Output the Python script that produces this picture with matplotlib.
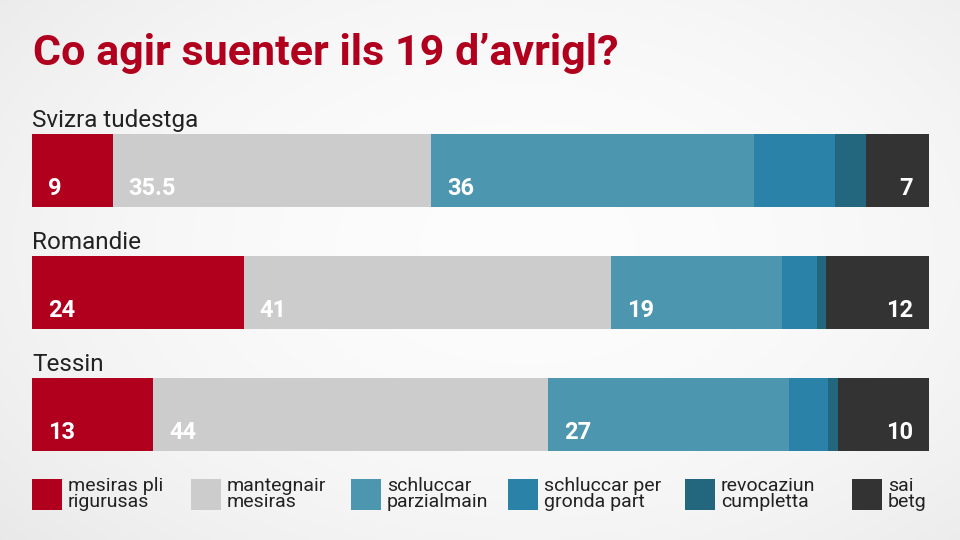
import numpy as np
import matplotlib
matplotlib.use("Agg")
import matplotlib.pyplot as plt
import matplotlib.transforms as mtransforms
from matplotlib.patches import Rectangle

# ---- data ----
title = "Co agir suenter ils 19 d\u2019avrigl?"
regions = ["Svizra tudestga", "Romandie", "Tessin"]
series = ["mesiras pli\nrigurusas", "mantegnair\nmesiras", "schluccar\nparzialmain",
          "schluccar per\ngronda part", "revocaziun\ncumpletta", "sai\nbetg"]
colors = ["#B0001E", "#CCCCCC", "#4C96B0", "#2A82A8", "#23677F", "#333333"]
values = [
    [9, 35.5, 36, 9, 3.5, 7],
    [23.6, 41, 19, 3.9, 1.0, 11.5],
    [13.5, 44, 26.9, 4.3, 1.2, 10.1],
]
value_labels = [
    ["9", "35.5", "36", None, None, "7"],
    ["24", "41", "19", None, None, "12"],
    ["13", "44", "27", None, None, "10"],
]

plt.rcParams['font.family'] = ['Roboto', 'DejaVu Sans']

W, H = 960, 540
fig = plt.figure(figsize=(9.6, 5.4), dpi=100)

# background gradient
bg = fig.add_axes([0, 0, 1, 1], zorder=-10)
yy, xx = np.mgrid[0:1:200j, 0:1:360j]
r = np.sqrt(((xx - 0.55) / 0.75) ** 2 + ((yy - 0.45) / 0.85) ** 2)
g = 0.99 - 0.08 * np.clip(r, 0, 1.2) ** 2
bg.imshow(np.dstack([g, g, g]), aspect='auto', extent=[0, 1, 0, 1])
bg.set_axis_off()

fig.text(33 / W, 1 - 65.5 / H, title, fontsize=31, fontweight='bold',
         color="#B0001E", va='baseline', ha='left')

# bars axes
row_px = 122
top = 109.5
ax = fig.add_axes([32 / W, 1 - (top + 3 * row_px) / H, 897 / W, 3 * row_px / H])
ax.set_xlim(0, 100)
ax.set_ylim(2.5, -0.5)
ax.set_axis_off()
bar_h = 73 / row_px

for i, row in enumerate(values):
    left = 0
    for j, v in enumerate(row):
        ax.barh(i, v, left=left, height=bar_h, color=colors[j], edgecolor='none')
        lab = value_labels[i][j]
        if lab is not None:
            yb = i + bar_h / 2 - 12 / row_px
            if j == len(row) - 1:
                tr = mtransforms.offset_copy(ax.transData, fig=fig, x=-16, y=0, units='dots')
                ax.text(left + v, yb, lab, transform=tr, ha='right', va='baseline',
                        color='white', fontsize=17, fontweight='bold')
            else:
                tr = mtransforms.offset_copy(ax.transData, fig=fig, x=16, y=0, units='dots')
                ax.text(left, yb, lab, transform=tr, ha='left', va='baseline',
                        color='white', fontsize=17, fontweight='bold')
        left += v
    ax.text(0, i - bar_h / 2 - 7 / row_px, regions[i], ha='left', va='baseline',
            fontsize=17.5, color='#222222')

# legend
legend_x = [32, 191, 351, 508, 685, 852]
for x0, name, c in zip(legend_x, series, colors):
    fig.patches.append(Rectangle((x0 / W, 1 - 510 / H), 30 / W, 31 / H,
                                 transform=fig.transFigure, facecolor=c, edgecolor='none'))
    fig.text((x0 + 36) / W, 1 - 494 / H, name, fontsize=14, color='#222222',
             ha='left', va='center', linespacing=0.8)

fig.savefig("out.png", dpi=100)
